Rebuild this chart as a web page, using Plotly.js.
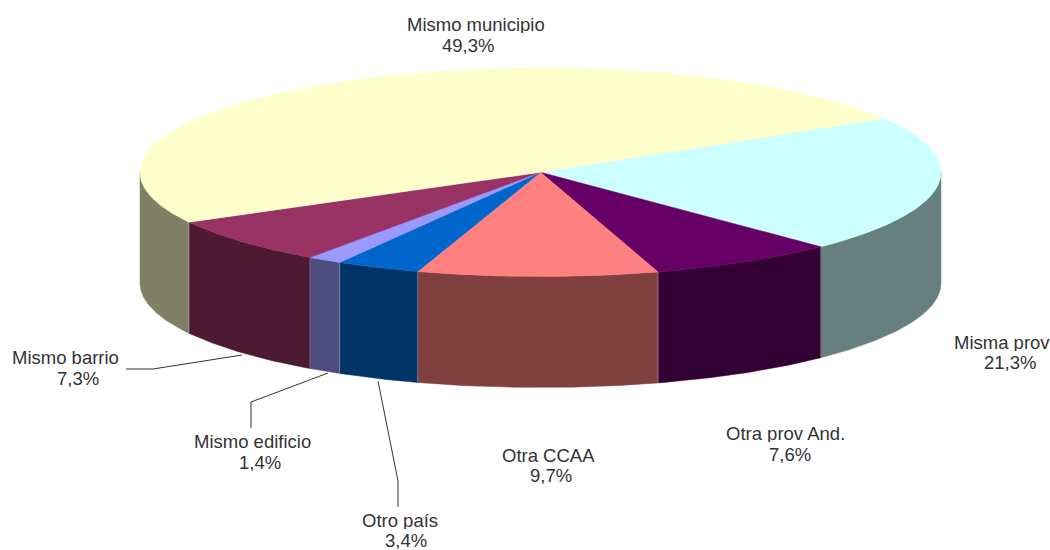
<!DOCTYPE html>
<html>
<head>
<meta charset="utf-8">
<script src="https://cdn.plot.ly/plotly-3.0.1.min.js"></script>
<style>html,body{margin:0;padding:0;background:#fff;overflow:hidden}#chart{width:1050px;height:550px}</style>
</head>
<body>
<div id="chart"></div>
<script>
// Data, clockwise from the slice edge at the back right
const categories = ["Misma prov", "Otra prov And.", "Otra CCAA", "Otro país", "Mismo edificio", "Mismo barrio", "Mismo municipio"];
const values = [21.3, 7.6, 9.7, 3.4, 1.4, 7.3, 49.3];
const topColors = ["#CCFFFF", "#660066", "#FF8080", "#0066CC", "#9999FF", "#993366", "#FFFFCC"];
const sideColors = ["#668080", "#330033", "#804040", "#003366", "#4D4D80", "#4D1933", "#808066"];

// Layout of the drawing
const cx = 540.5, cy = 172.3, rx = 400.5, ry = 104.2, depth = 111, startAngle = 31.1;
const textPositions = [
  {name:[1002,342], pct:[1010,362]},
  {name:[785,433],  pct:[790,454]},
  {name:[548,455],  pct:[551,475]},
  {name:[400,520],  pct:[406,540]},
  {name:[252,441],  pct:[260,462]},
  {name:[65,357],   pct:[78,378]},
  {name:[475.5,24], pct:[468,45]}
];
const leaderPaths = [
  "M126,369 L153,369 L242,355",
  "M251,428 L251,402 L328,373",
  "M398,507 L398,481 L378,381"
];

const rad = d => d * Math.PI / 180;
const px = a => cx + rx * Math.cos(rad(a));
const py = (a, dz) => cy - ry * Math.sin(rad(a)) + (dz || 0);
function arc(a0, a1, dz) {
  const n = Math.max(2, Math.ceil(Math.abs(a1 - a0) * 2));
  const out = [];
  for (let i = 0; i <= n; i++) {
    const a = a0 + (a1 - a0) * i / n;
    out.push([px(a), py(a, dz)]);
  }
  return out;
}

const total = values.reduce((s, v) => s + v, 0);
const sideTraces = [], topTraces = [], seamX = [], seamY = [];
let angle = startAngle;
values.forEach((v, i) => {
  const a0 = angle, a1 = angle - v / total * 360;
  angle = a1;
  // Top face
  const top = [[cx, cy]].concat(arc(a0, a1), [[cx, cy]]);
  topTraces.push({
    type: "scatter", mode: "lines", fill: "toself", fillcolor: topColors[i],
    x: top.map(p => p[0]), y: top.map(p => p[1]),
    line: {width: 0.5, color: topColors[i]}, hoverinfo: "skip"
  });
  // Front wall: only the part of the rim facing the viewer (angles -180..0)
  const ranges = [[Math.min(a0, 0), Math.max(a1, -180)], [Math.min(a0, -360), Math.max(a1, -540)]];
  ranges.forEach(r => {
    if (r[0] <= r[1]) return;
    const upper = arc(r[0], r[1], 0), lower = arc(r[1], r[0], depth);
    const poly = upper.concat(lower, [upper[0]]);
    sideTraces.push({
      type: "scatter", mode: "lines", fill: "toself", fillcolor: sideColors[i],
      x: poly.map(p => p[0]), y: poly.map(p => p[1]),
      line: {width: 0.5, color: sideColors[i]}, hoverinfo: "skip"
    });
  });
  // Seam at the slice edge, when it lies on the front
  if (a1 < 0 && a1 > -180) {
    seamX.push(px(a1), px(a1), null);
    seamY.push(py(a1), py(a1, depth), null);
  }
});
const seams = {
  type: "scatter", mode: "lines", x: seamX, y: seamY,
  line: {width: 1, color: "rgba(190,190,190,0.45)"}, hoverinfo: "skip"
};

const font = {family: "'Liberation Sans', Arial, sans-serif", size: 18.5, color: "#333333"};
const fmt = v => v.toFixed(1).replace(".", ",") + "%";
const annotations = [];
categories.forEach((c, i) => {
  const p = textPositions[i];
  annotations.push({x: p.name[0], y: p.name[1], xref: "x", yref: "y", text: c, showarrow: false, font, xanchor: "center", yanchor: "middle", height: 18, borderpad: 0});
  annotations.push({x: p.pct[0], y: p.pct[1], xref: "x", yref: "y", text: fmt(values[i]), showarrow: false, font, xanchor: "center", yanchor: "middle", height: 18, borderpad: 0});
});
const shapes = leaderPaths.map(path => ({type: "path", path, xref: "x", yref: "y", line: {color: "#333333", width: 1}}));

Plotly.newPlot("chart", sideTraces.concat([seams], topTraces), {
  width: 1050, height: 550,
  margin: {l: 0, r: 0, t: 0, b: 0},
  paper_bgcolor: "#ffffff", plot_bgcolor: "#ffffff",
  showlegend: false,
  xaxis: {range: [0, 1050], visible: false, fixedrange: true},
  yaxis: {range: [550, 0], visible: false, fixedrange: true},
  annotations, shapes
}, {displayModeBar: false, staticPlot: true});
</script>
</body>
</html>
